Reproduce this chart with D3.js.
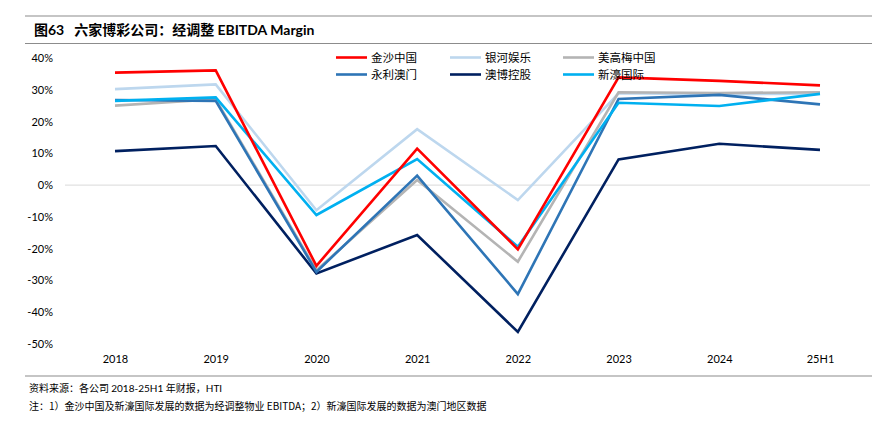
<!DOCTYPE html>
<meta charset="utf-8">
<html>
<head>
  <script src="https://cdn.jsdelivr.net/npm/d3@7"></script>
  <style>
    body { margin: 0; background: #fff; }
    text { font-family: Lato, "Noto Sans CJK SC", sans-serif; }
    .cjk { font-family: "Noto Sans CJK SC", sans-serif; }
  </style>
</head>
<body>
  <div id="viz"></div>
  <script>
    // categories and series
    var years = ["2018", "2019", "2020", "2021", "2022", "2023", "2024", "25H1"];
    var yTicks = [40, 30, 20, 10, 0, -10, -20, -30, -40, -50];

    var sandsChina = [35.4, 36.1, -25.4, 11.5, -20.2, 33.9, 32.8, 31.4];
    var galaxy     = [30.2, 31.7, -7.9, 17.6, -4.7, 28.9, 28.6, 28.8];
    var mgmChina   = [25.0, 27.0, -26.8, 1.6, -24.1, 29.2, 29.0, 29.2];
    var wynnMacau  = [26.8, 26.5, -27.3, 3.0, -34.3, 27.1, 28.4, 25.4];
    var sjm        = [10.7, 12.3, -27.8, -15.7, -46.2, 8.1, 13.0, 11.1];
    var melco      = [26.5, 27.6, -9.4, 8.2, -19.4, 25.9, 24.9, 28.7];

    var seriesNames = ["金沙中国", "银河娱乐", "美高梅中国", "永利澳门", "澳博控股", "新濠国际"];
    var seriesColors = ["#FF0000", "#BDD7EE", "#B4B4B4", "#2E75B6", "#002060", "#00B0F0"];
    var seriesValues = [sandsChina, galaxy, mgmChina, wynnMacau, sjm, melco];
    // draw order so that overlaps look like the source
    var drawOrder = [1, 2, 4, 3, 5, 0];

    var W = 884, H = 425;
    var svg = d3.select("#viz").append("svg")
      .attr("width", W)
      .attr("height", H);

    // header rules and title
    svg.append("line").attr("x1", 25).attr("x2", 872).attr("y1", 16).attr("y2", 16)
      .attr("stroke", "#8c8c8c").attr("stroke-width", 1.2);
    svg.append("line").attr("x1", 25).attr("x2", 872).attr("y1", 43.5).attr("y2", 43.5)
      .attr("stroke", "#8c8c8c").attr("stroke-width", 1);
    var title = svg.append("text").attr("x", 34).attr("y", 35)
      .attr("font-size", 14).attr("font-weight", "bold").attr("fill", "#000");
    title.append("tspan").attr("class", "cjk").text("图");
    title.append("tspan").text("63");
    title.append("tspan").attr("class", "cjk").attr("dx", 10).text("六家博彩公司：经调整 ");
    title.append("tspan").text("EBITDA Margin");

    // scales
    var x = d3.scalePoint().domain(years).range([115, 820]);
    var y = d3.scaleLinear().domain([-50, 40]).range([344, 58]);

    // zero line
    svg.append("line")
      .attr("x1", 65).attr("x2", 870)
      .attr("y1", y(0)).attr("y2", y(0))
      .attr("stroke", "#d9d9d9").attr("stroke-width", 1);

    // y axis labels
    var yAxis = d3.axisLeft(y).tickValues(yTicks).tickSize(0).tickPadding(0)
      .tickFormat(function(d) { return d + "%"; });
    var gy = svg.append("g").attr("transform", "translate(53,0)").call(yAxis);
    gy.select(".domain").remove();
    gy.selectAll("text").attr("font-family", "Lato, sans-serif").attr("font-size", 11).attr("fill", "#000");

    // x axis labels
    var xAxis = d3.axisBottom(x).tickSize(0).tickPadding(0);
    var gx = svg.append("g").attr("transform", "translate(0,355)").call(xAxis);
    gx.select(".domain").remove();
    gx.selectAll("text").attr("font-family", "Lato, sans-serif").attr("font-size", 11).attr("fill", "#000");

    // lines
    var line = d3.line()
      .x(function(d, i) { return x(years[i]); })
      .y(function(d) { return y(d); });

    drawOrder.forEach(function(k) {
      svg.append("path")
        .datum(seriesValues[k])
        .attr("fill", "none")
        .attr("stroke", seriesColors[k])
        .attr("stroke-width", 2.6)
        .attr("stroke-linejoin", "miter")
        .attr("d", line);
    });

    // legend: 3 columns x 2 rows
    var legX = [336, 450, 563], legY = [57.5, 74.5];
    seriesNames.forEach(function(name, i) {
      var lx = legX[i % 3], ly = legY[Math.floor(i / 3)];
      svg.append("line").attr("x1", lx).attr("x2", lx + 31).attr("y1", ly).attr("y2", ly)
        .attr("stroke", seriesColors[i]).attr("stroke-width", 2.6);
      svg.append("text").attr("class", "cjk").attr("x", lx + 35).attr("y", ly + 4)
        .attr("font-size", 11.5).attr("fill", "#000").text(name);
    });

    // bottom rule and notes
    svg.append("line").attr("x1", 25).attr("x2", 872).attr("y1", 376).attr("y2", 376)
      .attr("stroke", "#8c8c8c").attr("stroke-width", 1.2);
    var src = svg.append("text").attr("x", 29).attr("y", 392).attr("font-size", 10).attr("fill", "#000");
    src.append("tspan").attr("class", "cjk").text("资料来源：各公司 ");
    src.append("tspan").text("2018-25H1 ");
    src.append("tspan").attr("class", "cjk").text("年财报，");
    src.append("tspan").text("HTI");
    svg.append("text").attr("class", "cjk").attr("x", 29).attr("y", 410).attr("font-size", 10).attr("fill", "#000")
      .text("注：1）金沙中国及新濠国际发展的数据为经调整物业 EBITDA；2）新濠国际发展的数据为澳门地区数据");
  </script>
</body>
</html>
